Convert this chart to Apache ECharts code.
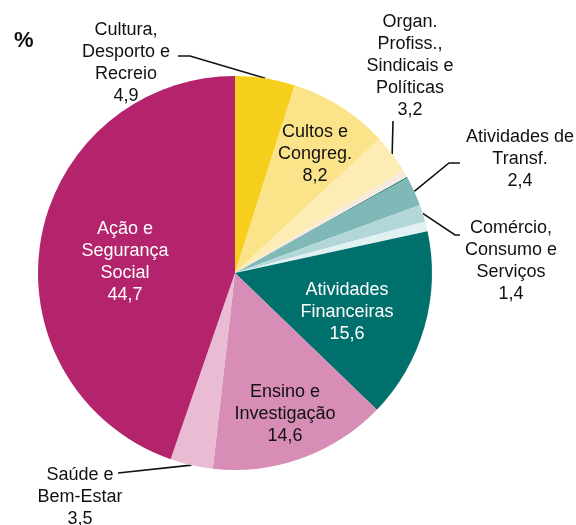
<!DOCTYPE html>
<html>
<head>
<meta charset="utf-8">
<script src="https://cdn.jsdelivr.net/npm/echarts@6/dist/echarts.min.js"></script>
<style>
html,body{margin:0;padding:0;background:#fff;}
#chart{width:576px;height:525px;}
</style>
</head>
<body>
<div id="chart"></div>
<script>
// Data
const categories = [
  'Cultura,\nDesporto e\nRecreio',
  'Cultos e\nCongreg.',
  'Organ.\nProfiss.,\nSindicais e\nPolíticas',
  '',
  '',
  'Atividades de\nTransf.',
  'Comércio,\nConsumo e\nServiços',
  '',
  'Atividades\nFinanceiras',
  'Ensino e\nInvestigação',
  'Saúde e\nBem-Estar',
  'Ação e\nSegurança\nSocial'
];
const values = [4.9, 8.2, 3.2, 0.6, 0.1, 2.4, 1.4, 0.8, 15.6, 14.6, 3.5, 44.7];

// Styles
const colors = ['#F6CF1D', '#FBE38A', '#FDEDB5', '#F7EBDF', '#0E7470', '#7FB8B7', '#B3D7D8', '#E1F0F1', '#00706D', '#D78DB5', '#EABCD4', '#B4246C'];
const labelMode = ['out', 'in', 'out', 'none', 'none', 'out', 'out', 'none', 'in', 'in', 'out', 'in'];
const labelColor = ['#111', '#111', '#111', '#111', '#111', '#111', '#111', '#111', '#fff', '#111', '#111', '#fff'];
const labelPos = [
  [126, 63], [315, 154], [410, 66], null, null, [520, 159], [511, 261], null,
  [347, 312], [285, 414], [80, 497], [125, 262]
];
// leader line: [bend offset, end offset] relative to label centre
const leaderOffsets = [
  [[64, -7], [52, -7]], null, [[-17, 55], [-17, 55]], null, null,
  [[-71, 4], [-60, 4]], [[-56, -26], [-51, -26]], null, null, null,
  [[38, -24], [38, -24]], null
];

const chart = echarts.init(document.getElementById('chart'));
const data = categories.map((name, i) => ({
  name: name,
  value: values[i],
  itemStyle: { color: colors[i] },
  label: labelMode[i] === 'none' ? { show: false } : {
    show: true,
    position: labelMode[i] === 'in' ? 'inside' : 'outside',
    color: labelColor[i]
  },
  labelLine: { show: labelMode[i] === 'out' }
}));

chart.setOption({
  animation: false,
  title: {
    text: '%', left: 9, top: 25,
    textStyle: { fontFamily: 'Liberation Sans', fontSize: 22, fontWeight: 'bold', color: '#111' }
  },
  series: [{
    type: 'pie',
    center: [235, 273],
    radius: 197,
    startAngle: 90,
    clockwise: true,
    data: data,
    label: {
      fontFamily: 'Liberation Sans',
      fontSize: 18,
      lineHeight: 22,
      align: 'center',
      formatter: p => p.name + '\n' + String(p.value).replace('.', ',')
    },
    labelLine: {
      length: 10, length2: 10,
      lineStyle: { color: '#111', width: 1.6 }
    },
    labelLayout: function (params) {
      const i = params.dataIndex;
      const pos = labelPos[i];
      if (!pos) return {};
      const out = { x: pos[0], y: pos[1], align: 'center', verticalAlign: 'middle' };
      const lo = leaderOffsets[i];
      if (lo && params.labelLinePoints) {
        const start = params.labelLinePoints[0];
        out.labelLinePoints = [
          [start[0], start[1]],
          [pos[0] + lo[0][0], pos[1] + lo[0][1]],
          [pos[0] + lo[1][0], pos[1] + lo[1][1]]
        ];
      }
      return out;
    }
  }]
});
</script>
</body>
</html>
